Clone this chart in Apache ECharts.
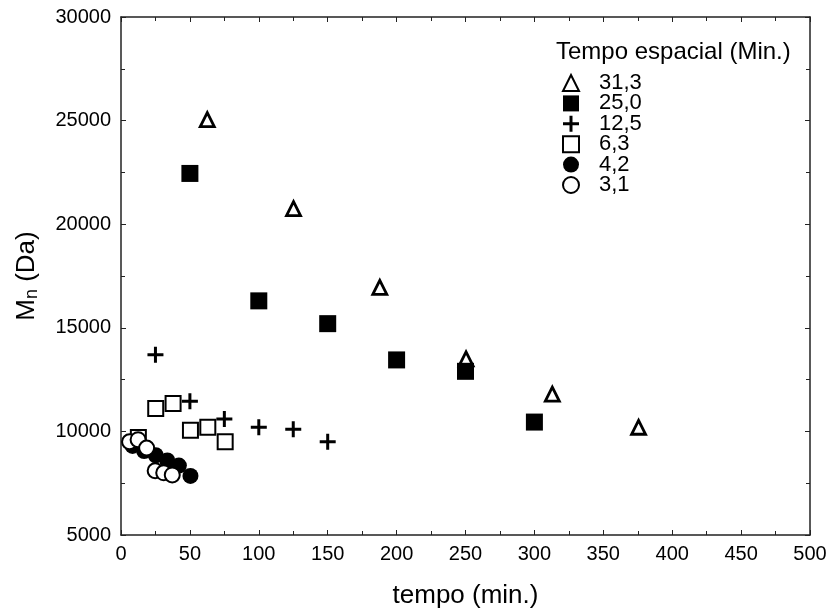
<!DOCTYPE html>
<html>
<head>
<meta charset="utf-8">
<script src="https://cdn.jsdelivr.net/npm/echarts@6/dist/echarts.min.js"></script>
<style>
  html, body { margin: 0; padding: 0; background: #fff; }
  #main { width: 832px; height: 608px; }
</style>
</head>
<body>
<div id="main"></div>
<script>
// series names (tempo espacial, min.)
var seriesNames = ['31,3', '25,0', '12,5', '6,3', '4,2', '3,1'];

// [tempo (min.), Mn (Da)]
var s313 = [[62.6, 25050], [125.2, 20750], [187.8, 16950], [250.4, 13500], [313, 11800], [375.6, 10200]];
var s250 = [[50, 22450], [100, 16300], [150, 15200], [200, 13450], [250, 12900], [300, 10450]];
var s125 = [[25, 13700], [50, 11450], [75, 10600], [100, 10200], [125, 10100], [150, 9500]];
var s63 = [[12.6, 9700], [25.2, 11100], [37.8, 11350], [50.4, 10050], [63, 10200], [75.6, 9500]];
var s42 = [[8.4, 9300], [16.8, 9050], [25.2, 8850], [33.6, 8600], [42, 8350], [50.4, 7850]];
var s31 = [[6.2, 9500], [12.4, 9600], [18.6, 9200], [24.8, 8100], [31, 8000], [37.2, 7900]];

var plusPath = 'path://M6.5,0H9.5V6.5H16V9.5H9.5V16H6.5V9.5H0V6.5H6.5Z';

var font = 'Liberation Sans, Arial, sans-serif';
var axisCol = '#222';

var chart = echarts.init(document.getElementById('main'));

function frameAxis(pos, isX) {
  return {
    type: 'value',
    position: pos,
    min: isX ? 0 : 5000,
    max: isX ? 500 : 30000,
    interval: isX ? 50 : 5000,
    axisLine: { show: true, onZero: false, lineStyle: { color: axisCol, width: 1.5 } },
    axisTick: { show: true, inside: true, length: 5, lineStyle: { color: axisCol, width: 1 } },
    minorTick: { show: true, splitNumber: 2, length: 4, lineStyle: { color: axisCol, width: 1 } },
    splitLine: { show: false },
    axisLabel: { show: false }
  };
}

var xMain = frameAxis('bottom', true);
xMain.axisLabel = { show: true, fontSize: 20, color: '#000', fontFamily: font, margin: 9,
  formatter: function (v) { return String(v); } };
xMain.name = 'tempo (min.)';
xMain.nameLocation = 'middle';
xMain.nameGap = 48;
xMain.nameTextStyle = { fontSize: 26, color: '#000', fontFamily: font };

var yMain = frameAxis('left', false);
yMain.axisLabel = { show: true, fontSize: 20, color: '#000', fontFamily: font, margin: 10,
  formatter: function (v) { return String(v); } };
yMain.name = 'M{sub|n} (Da)';
yMain.nameLocation = 'middle';
yMain.nameGap = 80;
yMain.nameTextStyle = {
  fontSize: 26, color: '#000', fontFamily: font,
  rich: { sub: { fontSize: 18, color: '#000', fontFamily: font, verticalAlign: 'bottom', padding: [10, 0, 0, 0] } }
};

var mk = function (name, data, symbol, size, fill, border) {
  return {
    name: name,
    type: 'scatter',
    data: data,
    symbol: symbol,
    symbolSize: size,
    itemStyle: { color: fill, borderColor: '#000', borderWidth: border, opacity: 1 },
    emphasis: { disabled: true }
  };
};

chart.setOption({
  animation: false,
  backgroundColor: '#fff',
  textStyle: { fontFamily: font },
  title: {
    text: 'Tempo espacial (Min.)',
    left: 551,
    top: 35,
    textStyle: { fontSize: 24, fontWeight: 'normal', color: '#000', fontFamily: font }
  },
  legend: {
    orient: 'vertical',
    left: 557,
    top: 67,
    itemWidth: 16,
    itemHeight: 16,
    itemGap: -1.6,
    textStyle: { fontSize: 22, color: '#000', fontFamily: font, padding: [0, 0, 0, 15] },
    data: seriesNames
  },
  grid: { left: 121, right: 22, top: 17, bottom: 73, outerBoundsMode: 'none' },
  xAxis: [xMain, frameAxis('top', true)],
  yAxis: [yMain, frameAxis('right', false)],
  series: [
    mk(seriesNames[0], s313, 'triangle', 14, '#fff', 2.8),
    mk(seriesNames[1], s250, 'rect', 17, '#000', 0),
    mk(seriesNames[2], s125, plusPath, 16, '#000', 0),
    mk(seriesNames[3], s63, 'rect', 15, '#fff', 2),
    mk(seriesNames[4], s42, 'circle', 16, '#000', 0),
    mk(seriesNames[5], s31, 'circle', 15, '#fff', 2)
  ]
});
</script>
</body>
</html>
